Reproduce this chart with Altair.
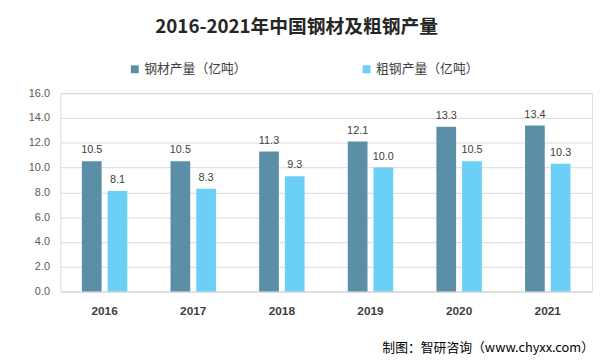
import altair as alt
import pandas as pd

years = ["2016", "2017", "2018", "2019", "2020", "2021"]
steel_products = [10.5, 10.5, 11.3, 12.1, 13.3, 13.4]
crude_steel = [8.1, 8.3, 9.3, 10.0, 10.5, 10.3]
series_names = ["钢材产量（亿吨）", "粗钢产量（亿吨）"]
series_colors = ["#5B8FA8", "#6CCFF6"]
y_ticks = [0, 2, 4, 6, 8, 10, 12, 14, 16]
footer_text = ["制图：智研咨询（www.chyxx.com）"]

rows = []
for i, y in enumerate(years):
    rows.append({"year": y, "series": series_names[0], "value": steel_products[i]})
    rows.append({"year": y, "series": series_names[1], "value": crude_steel[i]})
df = pd.DataFrame(rows)

FONT = "Noto Sans CJK SC"

x_enc = alt.X("year:N", sort=years, title=None,
              scale=alt.Scale(paddingInner=0.42, paddingOuter=0.21),
              axis=alt.Axis(labelAngle=0, labelFontWeight="bold", labelFontSize=12,
                            labelColor="#404040", labelPadding=14, ticks=False,
                            domainColor="#D9D9D9", labelFont="Liberation Sans"))
xoff = alt.XOffset("series:N", sort=series_names, scale=alt.Scale(paddingInner=0, paddingOuter=0))
y_enc = alt.Y("value:Q", title=None,
              scale=alt.Scale(domain=[0, 16], nice=False),
              axis=alt.Axis(values=y_ticks, format=".1f", domain=False, ticks=False,
                            labelOverlap=False,
                            labelPadding=11, labelFontSize=11, labelColor="#595959",
                            gridColor="#D9D9D9", labelFont="Liberation Sans"))

bars = alt.Chart(df).mark_bar(width=20).encode(
    x=x_enc, xOffset=xoff, y=y_enc,
    color=alt.Color("series:N", sort=series_names,
                    scale=alt.Scale(domain=series_names, range=series_colors),
                    legend=alt.Legend(title=None, orient="none", legendX=69, legendY=-31,
                                      direction="horizontal", symbolType="square",
                                      symbolSize=64, symbolStrokeWidth=0,
                                      labelFontSize=13, labelColor="#404040", labelFont=FONT,
                                      columnPadding=114, labelOffset=3, labelLimit=200)),
)

labels = alt.Chart(df).mark_text(baseline="bottom", dy=-6, fontSize=11, color="#404040",
                                 font="Liberation Sans").encode(
    x=x_enc, xOffset=xoff, y=y_enc,
    text=alt.Text("value:Q", format=".1f"),
)

footer = alt.Chart(pd.DataFrame({"t": footer_text})).mark_text(
    align="right", baseline="middle", fontSize=13, font=FONT, color="#000000"
).encode(text="t:N", x=alt.value(541), y=alt.value(258))

chart = alt.layer(bars, labels, footer).properties(
    width=539, height=201,
    title=alt.TitleParams("2016-2021年中国钢材及粗钢产量", fontSize=19, fontWeight="bold",
                          font=FONT, color="#262626", anchor="middle", offset=26,
                          dx=-30),
    autosize=alt.AutoSizeParams(type="none"),
    padding={"left": 53, "top": 84, "right": 5, "bottom": 63},
).configure_view(stroke=None).configure(background="white")

chart.save("out.html", embed_options={"renderer": "svg", "actions": False})
